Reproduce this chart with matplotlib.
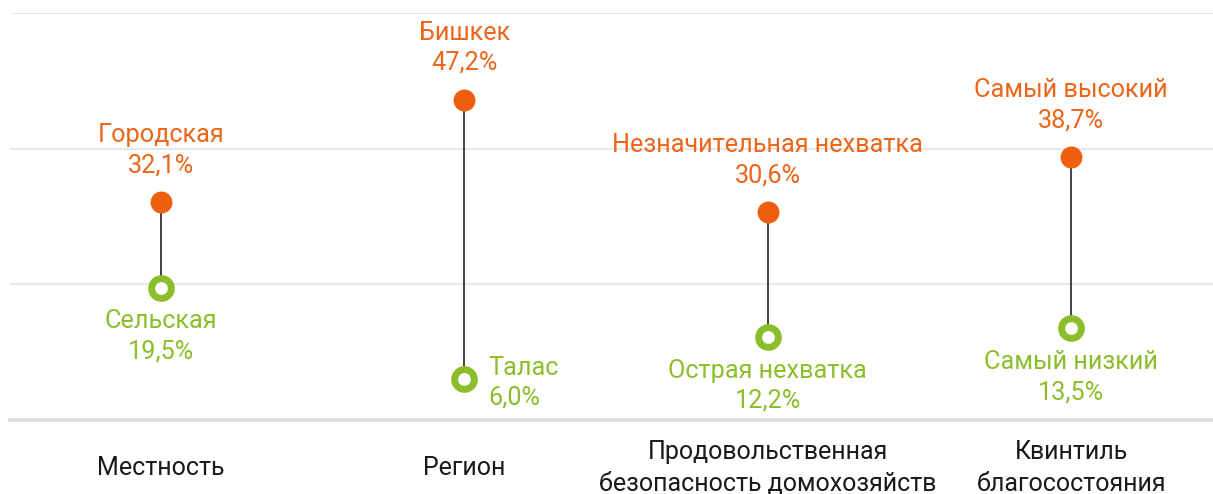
import matplotlib.pyplot as plt
from matplotlib.transforms import blended_transform_factory

plt.rcParams['font.family'] = ['Roboto', 'DejaVu Sans']

categories = ['Местность', 'Регион', 'Продовольственная\nбезопасность домохозяйств',
              'Квинтиль\nблагосостояния']
high_labels = ['Городская', 'Бишкек', 'Незначительная нехватка', 'Самый высокий']
high_vals = [32.1, 47.2, 30.6, 38.7]
low_labels = ['Сельская', 'Талас', 'Острая нехватка', 'Самый низкий']
low_vals = [19.5, 6.0, 12.2, 13.5]
grid_vals = [20, 40, 60]

ORANGE = '#EC6519'
DOT_ORANGE = '#EE600F'
GREEN = '#8CBE2C'

fig = plt.figure(figsize=(12.13, 4.94), dpi=100)
ax = fig.add_axes([10 / 1213, 1 - 420 / 494, 1 - 10 / 1213, (420 - 13) / 494])
ax.set_xlim(-0.498, 3.468)
ax.set_ylim(0, 60)
ax.axis('off')

for g in grid_vals:
    ax.axhline(g, color='#e3e3e3', lw=1.2, zorder=0)
ax.axhline(0, color='#dedede', lw=2.6, zorder=0, clip_on=False)

fmt = lambda v: f'{v:.1f}%'.replace('.', ',')

for i, cat in enumerate(categories):
    ax.plot([i, i], [low_vals[i], high_vals[i]], color='#111111', lw=1.1, zorder=1)
    ax.plot(i, high_vals[i], 'o', color=DOT_ORANGE, ms=15.8, mec='none', zorder=3)
    ax.plot(i, low_vals[i], 'o', mfc='white', mec=GREEN, ms=14.2, mew=5, zorder=3)

    ax.annotate(f'{high_labels[i]}\n{fmt(high_vals[i])}', (i, high_vals[i]),
                xytext=(0, 18), textcoords='offset points', ha='center', va='bottom',
                color=ORANGE, fontsize=18.2, linespacing=1.32)
    if i == 1:
        ax.annotate(f'{low_labels[i]}\n{fmt(low_vals[i])}', (i, low_vals[i]),
                    xytext=(17, -2.5), textcoords='offset points', ha='left', va='center',
                    color=GREEN, fontsize=18.2, linespacing=1.32)
    else:
        ax.annotate(f'{low_labels[i]}\n{fmt(low_vals[i])}', (i, low_vals[i]),
                    xytext=(0, -15.5), textcoords='offset points', ha='center', va='top',
                    color=GREEN, fontsize=18.2, linespacing=1.32)

    trans = blended_transform_factory(ax.transData, ax.transAxes)
    ax.text(i, -48 / 407, cat, transform=trans, ha='center', va='center',
            color='#1a1a1a', fontsize=18, linespacing=1.38)

fig.savefig('out.png', dpi=100, facecolor='white')
